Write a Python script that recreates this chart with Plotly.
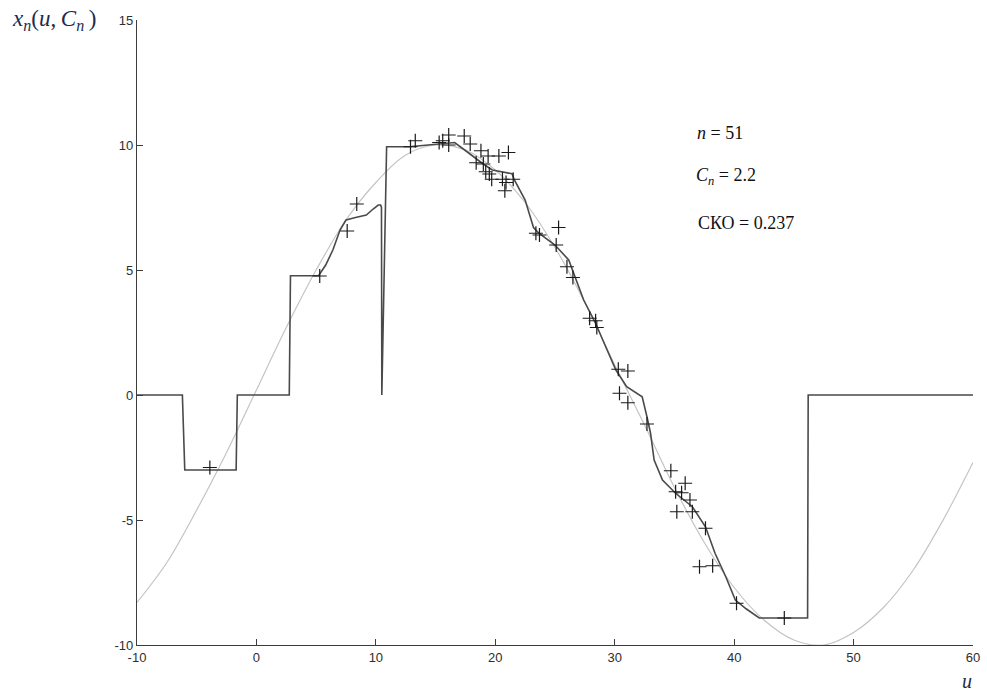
import plotly.graph_objects as go

# Smooth reference function x(u)
u_ref = [-10, -7.5, -5, -2.5, 0, 2.5, 5, 7.5, 10, 12.5, 15, 17.5, 20, 22.5, 25, 27.5,
         30, 32.5, 35, 37.5, 40, 42.5, 45, 47.5, 50, 52.5, 55, 57.5, 60]
x_ref = [-8.3, -6.7, -4.6, -2.3, 0.2, 2.7, 5.0, 7.0, 8.5, 9.6, 10.0, 9.8, 9.0, 7.7, 5.9, 3.7,
         1.2, -1.2, -3.7, -5.9, -7.7, -9.0, -9.8, -10.0, -9.5, -8.5, -7.0, -5.0, -2.7]

# Estimate x_n(u, C_n)
u_est = [-10, -6.2, -6.0, -1.7, -1.6, 2.75, 2.85, 5.2, 5.8, 6.4, 7.0, 7.5, 8.3, 9.2, 9.8, 10.2,
         10.4, 10.47, 10.5, 10.85, 10.9, 12.8, 14.5, 16.6, 17.8, 18.9, 19.75, 21.4, 21.6,
         22.5, 23.2, 23.65, 25.0, 26.15, 27.4, 28.4, 29.0, 30.1, 31.0, 31.8, 32.3, 32.7,
         33.0, 33.3, 34.0, 35.1, 36.5, 37.6, 38.4, 39.3, 40.1, 41.0, 42.1, 46.15, 46.2, 60]
x_est = [0, 0, -3.0, -3.0, 0, 0, 4.77, 4.77, 5.2, 5.8, 6.6, 7.0, 7.1, 7.2, 7.45, 7.6,
         7.6, 7.5, 0, 9.9, 9.93, 9.93, 10.0, 10.1, 9.67, 9.27, 9.0, 8.85, 8.6,
         7.8, 6.7, 6.47, 6.0, 5.4, 3.8, 2.87, 2.2, 1.0, 0.33, 0.1, -0.07, -0.87,
         -1.53, -2.6, -3.4, -3.93, -4.47, -5.27, -6.33, -7.27, -8.2, -8.55, -8.92, -8.92, 0, 0]

# Sample points (n = 51)
u_pts = [-3.9, 5.3, 7.6, 8.4, 12.9, 13.3, 15.3, 15.6, 16.1, 16.1, 17.4, 17.9, 18.8, 18.4, 19.0,
         19.4, 20.3, 21.1, 19.2, 19.5, 19.7, 20.6, 20.9, 20.8, 21.5, 23.4, 23.7, 25.3, 25.1,
         26.0, 26.5, 27.9, 28.4, 28.5, 30.3, 31.1, 30.4, 31.1, 32.7, 34.7, 35.9, 35.1, 35.6,
         36.3, 35.2, 36.5, 37.6, 37.1, 38.2, 40.2, 44.2]
x_pts = [-2.9, 4.76, 6.56, 7.64, 9.93, 10.17, 10.1, 10.17, 10.4, 10.0, 10.36, 10.04, 9.77, 9.29, 9.24,
         9.56, 9.56, 9.7, 8.93, 8.84, 8.63, 8.63, 8.5, 8.17, 8.63, 6.47, 6.4, 6.7, 6.0,
         5.13, 4.7, 3.07, 2.97, 2.7, 1.03, 0.96, 0.07, -0.31, -1.16, -3.03, -3.53, -3.87, -3.91,
         -4.2, -4.67, -4.67, -5.33, -6.87, -6.83, -8.33, -8.92]

x_ticks = [-10, 0, 10, 20, 30, 40, 50, 60]
x_tick_text = ["-10", "0", "10", "20", "30", "40", "50", "60"]
y_ticks = [-10, -5, 0, 5, 10, 15]
y_tick_text = ["-10", "-5", "0", "5", "10", "15"]

fig = go.Figure()
fig.add_trace(go.Scatter(x=u_ref, y=x_ref, mode="lines",
                         line=dict(color="#c4c4c4", width=1.2, shape="spline"), hoverinfo="skip"))
fig.add_trace(go.Scatter(x=u_est, y=x_est, mode="lines", line=dict(color="#4a4a4a", width=1.6)))
fig.add_trace(go.Scatter(x=u_pts, y=x_pts, mode="markers",
                         marker=dict(symbol="cross-thin", size=10, line=dict(color="#1a1a1a", width=1.2))))

serif = "Liberation Serif, Times New Roman, serif"
tick_font = dict(family="Liberation Sans, Arial", size=13, color="#2e2e2e")
fig.update_layout(
    width=987, height=693,
    margin=dict(l=137, r=14, t=20, b=48, autoexpand=False),
    paper_bgcolor="white", plot_bgcolor="white",
    showlegend=False,
    xaxis=dict(range=[-10, 60], tickvals=x_ticks, ticktext=x_tick_text, showgrid=False, zeroline=False,
               showline=True, linecolor="#3c3c3c", linewidth=1.2, automargin=False,
               ticklabeloverflow="allow",
               ticks="inside", ticklen=6, tickcolor="#3c3c3c", tickfont=tick_font),
    yaxis=dict(range=[-10, 15], tickvals=y_ticks, ticktext=y_tick_text, showgrid=False, zeroline=False,
               showline=True, linecolor="#3c3c3c", linewidth=1.2, automargin=False,
               ticklabeloverflow="allow",
               ticks="inside", ticklen=6, tickcolor="#3c3c3c", tickfont=tick_font),
    annotations=[
        dict(text="<i>x<sub>n</sub></i>(<i>u</i>,\u2009<i>C<sub>n</sub></i>\u2009)", xref="paper", yref="paper",
             x=-0.152, y=1.0, xanchor="left", yanchor="middle", showarrow=False,
             font=dict(family=serif, size=23, color="#1f2a4d")),
        dict(text="<i>u</i>", xref="paper", yref="paper", x=0.993, y=-0.057,
             xanchor="center", yanchor="middle", showarrow=False,
             font=dict(family=serif, size=20, color="#1f2a4d")),
        dict(text="<i>n</i> = 51", xref="x", yref="y", x=36.7, y=10.5,
             xanchor="left", yanchor="middle", showarrow=False,
             font=dict(family=serif, size=18, color="#111111")),
        dict(text="<i>C<sub>n</sub></i> = 2.2", xref="x", yref="y", x=36.6, y=8.75,
             xanchor="left", yanchor="middle", showarrow=False,
             font=dict(family=serif, size=18, color="#111111")),
        dict(text="СКО = 0.237", xref="x", yref="y", x=36.8, y=6.9,
             xanchor="left", yanchor="middle", showarrow=False,
             font=dict(family=serif, size=18, color="#111111")),
    ],
)

fig.write_html("out.html")
